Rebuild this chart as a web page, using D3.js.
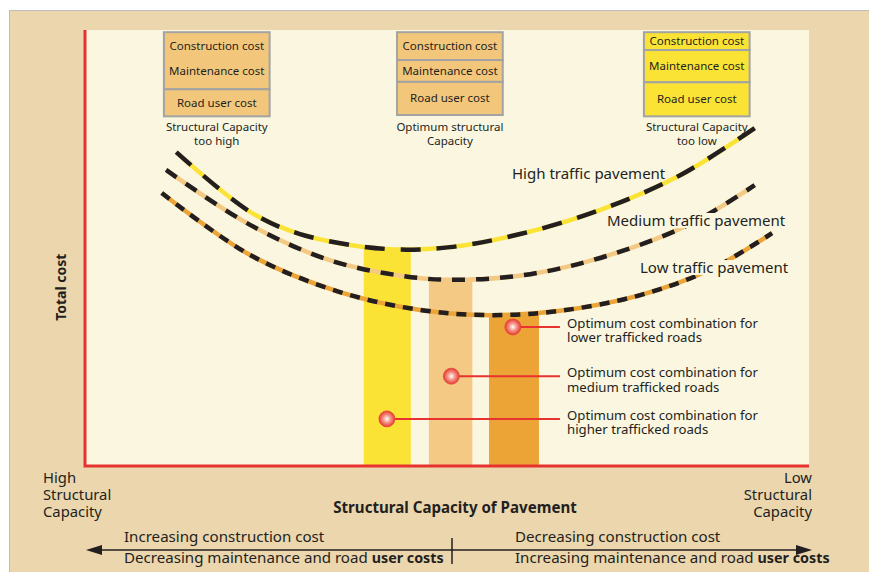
<!DOCTYPE html>
<html>
<head>
<meta charset="utf-8">
<script src="https://cdn.jsdelivr.net/npm/d3@7"></script>
<style>
  body { margin: 0; background: #fff; }
  svg text { font-family: "Noto Sans", sans-serif; fill: #231f20; }
</style>
</head>
<body>
<svg width="869" height="572"></svg>
<script>
// structural capacity (0 = high, 100 = low) vs total cost (0..100)
var series = ["High traffic pavement", "Medium traffic pavement", "Low traffic pavement"];
var highCap  = [12.6, 22.8, 29.7, 41.4, 50.4, 60.1, 71.1, 82.2, 92.5];
var highCost = [72.0, 58.3, 53.2, 49.8, 50.2, 53.2, 58.7, 66.7, 77.5];
var medCap   = [11.2, 22.8, 33.8, 43.8, 51.1, 61.5, 72.5, 83.6, 92.5];
var medCost  = [67.9, 55.3, 47.2, 43.6, 42.7, 44.0, 48.4, 55.5, 64.4];
var lowCap   = [10.6, 22.8, 35.2, 46.3, 55.9, 65.6, 76.7, 86.3, 94.9];
var lowCost  = [62.6, 48.4, 39.9, 35.8, 34.6, 35.6, 39.2, 45.0, 53.4];

// optimum bands (high, medium, low traffic)
var bandStart = [38.5, 47.5, 55.8];
var bandEnd   = [45.0, 53.5, 62.7];
var bandTop   = [50.0, 43.1, 34.6];

// optimum markers (low, medium, high traffic labels)
var optCap  = [59.1, 50.6, 41.7];
var optCost = [31.9, 20.6, 10.8];
var optLabels = [
  ["Optimum cost combination for", "lower trafficked roads"],
  ["Optimum cost combination for", "medium trafficked roads"],
  ["Optimum cost combination for", "higher trafficked roads"]
];

// cost make-up boxes (segment heights in cost units)
var boxCap = [10.9, 43.1, 77.2];
var boxCaptions = [["Structural Capacity", "too high"], ["Optimum structural", "Capacity"], ["Structural Capacity", "too low"]];
var boxSegLabels = [
  [["Construction cost", "Maintenance cost"], ["Road user cost"]],
  [["Construction cost"], ["Maintenance cost"], ["Road user cost"]],
  [["Construction cost"], ["Maintenance cost"], ["Road user cost"]]
];
var boxSegSizes = [[13.1, 6.2], [6.4, 5.0, 7.6], [4.1, 7.4, 7.8]];

var svg = d3.select("svg");
var x = d3.scaleLinear().domain([0, 100]).range([85, 809]);
var y = d3.scaleLinear().domain([0, 100]).range([466, 30]);

var lineColors = ["#fbe335", "#f3c983", "#eca436"];
var dashes = ["20 16", "13 11", "10 8"];
var boxFill = ["#f3c77b", "#f3c77b", "#fbe335"];

// panel
svg.append("rect").attr("x", 9.5).attr("y", 10.5).attr("width", 870).attr("height", 570)
  .attr("fill", "#ebd6ad").attr("stroke", "#bdbdbd");
svg.append("rect").attr("x", x(0)).attr("y", y(100)).attr("width", x(100) - x(0)).attr("height", y(0) - y(100))
  .attr("fill", "#faf6e0");

// optimum bands
var bandColors = ["#fbe335", "#f3c983", "#eca436"];
svg.selectAll(".band").data(bandStart).enter().append("rect")
  .attr("x", d => x(d))
  .attr("width", (d, i) => x(bandEnd[i]) - x(d))
  .attr("y", (d, i) => y(bandTop[i]))
  .attr("height", (d, i) => y(0) - y(bandTop[i]))
  .attr("fill", (d, i) => bandColors[i]);

// curves
var curves = [
  highCap.map((c, i) => [c, highCost[i]]),
  medCap.map((c, i) => [c, medCost[i]]),
  lowCap.map((c, i) => [c, lowCost[i]])
];
var line = d3.line().x(d => x(d[0])).y(d => y(d[1])).curve(d3.curveCatmullRom);
curves.forEach(function(pts, i) {
  svg.append("path").attr("d", line(pts)).attr("fill", "none")
    .attr("stroke", lineColors[i]).attr("stroke-width", 4.5);
  svg.append("path").attr("d", line(pts)).attr("fill", "none")
    .attr("stroke", "#231f20").attr("stroke-width", 4.5)
    .attr("stroke-dasharray", dashes[i]);
});

// curve labels, with a cream knock-out behind them
var curveLabelPos = [[512, 179], [607, 226], [640, 273]];
series.forEach(function(s, i) {
  var t = svg.append("text").attr("x", curveLabelPos[i][0]).attr("y", curveLabelPos[i][1])
    .attr("font-size", 15).text(s);
  if (i > 0) {
    var bb = t.node().getBBox();
    svg.insert("rect", function() { return t.node(); })
      .attr("x", bb.x - 2).attr("y", bb.y + 3).attr("width", bb.width + 4).attr("height", bb.height - 5)
      .attr("fill", "#faf6e0");
  }
});

// axes (red)
svg.append("path")
  .attr("d", "M" + x(0) + "," + y(100) + "V" + y(0) + "H" + x(100))
  .attr("fill", "none").attr("stroke", "#e8322f").attr("stroke-width", 3);

// markers
var defs = svg.append("defs");
var grad = defs.append("radialGradient").attr("id", "ball").attr("cx", "50%").attr("cy", "50%").attr("r", "50%");
grad.append("stop").attr("offset", "0%").attr("stop-color", "#ffffff");
grad.append("stop").attr("offset", "45%").attr("stop-color", "#f59a8c");
grad.append("stop").attr("offset", "100%").attr("stop-color", "#e53a30");

optCap.forEach(function(c, i) {
  svg.append("line").attr("x1", x(c)).attr("x2", x(65.6))
    .attr("y1", y(optCost[i])).attr("y2", y(optCost[i]))
    .attr("stroke", "#e8322f").attr("stroke-width", 2);
  svg.append("circle").attr("cx", x(c)).attr("cy", y(optCost[i])).attr("r", 8)
    .attr("fill", "url(#ball)").attr("stroke", "#e8423a").attr("stroke-width", 0.8);
  var t = svg.append("text").attr("x", 567).attr("y", y(optCost[i]) + 1).attr("font-size", 13.2);
  optLabels[i].forEach(function(l, j) {
    t.append("tspan").attr("x", 567).attr("dy", j === 0 ? 0 : 14.5).text(l);
  });
});

// boxes
var boxW = 14.6;
boxCap.forEach(function(c, b) {
  var g = svg.append("g");
  var top = 99.5;
  boxSegSizes[b].forEach(function(h, s) {
    var y0 = y(top), y1 = y(top - h);
    g.append("rect").attr("x", x(c)).attr("y", y0).attr("width", x(c + boxW) - x(c)).attr("height", y1 - y0)
      .attr("fill", boxFill[b]).attr("stroke", "#a3a3a3").attr("stroke-width", 2);
    var labels = boxSegLabels[b][s];
    var mid = (y0 + y1) / 2;
    labels.forEach(function(l, k) {
      var off = labels.length === 1 ? 0 : (k === 0 ? -14.5 : 10.5);
      g.append("text").attr("x", (x(c) + x(c + boxW)) / 2).attr("y", mid + off + 4)
        .attr("text-anchor", "middle").attr("font-size", 11.5).text(l);
    });
    top -= h;
  });
  boxCaptions[b].forEach(function(l, k) {
    g.append("text").attr("x", (x(c) + x(c + boxW)) / 2).attr("y", 131 + k * 14)
      .attr("text-anchor", "middle").attr("font-size", 11.5).text(l);
  });
});

// axis titles
svg.append("text").attr("transform", "translate(66," + y(41) + ") rotate(-90)")
  .attr("text-anchor", "middle").attr("font-size", 14).attr("font-weight", "bold").text("Total cost");
svg.append("text").attr("x", 455).attr("y", 513).attr("text-anchor", "middle")
  .attr("font-size", 15.1).attr("font-weight", "bold").text("Structural Capacity of Pavement");

["High", "Structural", "Capacity"].forEach(function(l, k) {
  svg.append("text").attr("x", 43).attr("y", 483 + k * 17).attr("font-size", 14.8).text(l);
});
["Low", "Structural", "Capacity"].forEach(function(l, k) {
  svg.append("text").attr("x", 812).attr("y", 483 + k * 17).attr("text-anchor", "end").attr("font-size", 14.8).text(l);
});

// bottom arrow
var ay = 550;
svg.append("line").attr("x1", 95).attr("x2", 805).attr("y1", ay).attr("y2", ay)
  .attr("stroke", "#231f20").attr("stroke-width", 1.5);
svg.append("path").attr("d", "M86," + ay + "L102," + (ay - 5) + "L102," + (ay + 5) + "Z").attr("fill", "#231f20");
svg.append("path").attr("d", "M812," + ay + "L796," + (ay - 5) + "L796," + (ay + 5) + "Z").attr("fill", "#231f20");
svg.append("line").attr("x1", 452).attr("x2", 452).attr("y1", 538).attr("y2", 564)
  .attr("stroke", "#231f20").attr("stroke-width", 1.5);

svg.append("text").attr("x", 124).attr("y", 542).attr("font-size", 15.1).text("Increasing construction cost");
var t1 = svg.append("text").attr("x", 124).attr("y", 563).attr("font-size", 15.1);
t1.append("tspan").text("Decreasing maintenance and road ");
t1.append("tspan").attr("font-weight", "bold").attr("font-size", 14.3).text("user costs");
svg.append("text").attr("x", 515).attr("y", 542).attr("font-size", 15.1).text("Decreasing construction cost");
var t2 = svg.append("text").attr("x", 515).attr("y", 563).attr("font-size", 15.1);
t2.append("tspan").text("Increasing maintenance and road ");
t2.append("tspan").attr("font-weight", "bold").attr("font-size", 14.3).text("user costs");
</script>
</body>
</html>
